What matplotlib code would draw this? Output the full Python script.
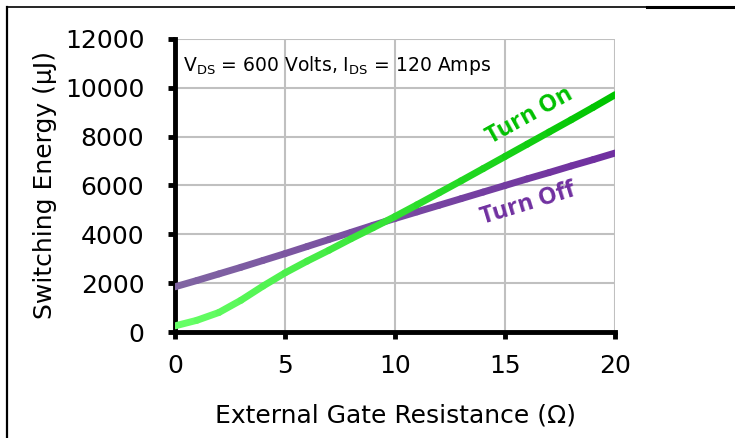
import numpy as np
import matplotlib
matplotlib.use("Agg")
import matplotlib.pyplot as plt
from matplotlib.collections import LineCollection
from matplotlib.colors import LinearSegmentedColormap
from matplotlib.lines import Line2D

# gate resistance (ohm) and switching energy (uJ)
r_gate = [0, 1, 2, 3, 4, 5, 6, 7, 8, 9, 10, 11, 12, 13, 14, 15, 16, 17, 18, 19, 20]
e_on = [250, 480, 800, 1300, 1880, 2420, 2900, 3350, 3820, 4270, 4730,
        5210, 5700, 6190, 6690, 7190, 7690, 8190, 8690, 9200, 9720]
e_off = [1850, 2110, 2380, 2650, 2930, 3210, 3500, 3790, 4080, 4370, 4650,
         4920, 5190, 5460, 5730, 6000, 6270, 6530, 6800, 7060, 7330]

x_ticks = [0, 5, 10, 15, 20]
y_ticks = [0, 2000, 4000, 6000, 8000, 10000, 12000]

plt.rcParams["font.family"] = ["DejaVu Sans"]

fig = plt.figure(figsize=(7.35, 4.38), dpi=100)
ax = fig.add_axes([0.238, 0.242, 0.599, 0.669])


def gradient_line(ax, x, y, c0, c1, lw=5):
    # one colour per segment; round caps close the joints, the axes clip trims the ends
    pts = np.column_stack([x, y]).reshape(-1, 1, 2)
    segs = np.concatenate([pts[:-1], pts[1:]], axis=1)
    cmap = LinearSegmentedColormap.from_list("g", [c0, c1])
    lc = LineCollection(segs, colors=cmap(np.linspace(0, 1, len(segs))),
                        linewidths=lw, capstyle="round", joinstyle="round", zorder=3)
    ax.add_collection(lc)


gradient_line(ax, r_gate, e_off, "#8064A2", "#7030A0")
gradient_line(ax, r_gate, e_on, "#66FF66", "#00C400")

ax.set_xlim(0, 20)
ax.set_ylim(0, 12000)
ax.set_xticks(x_ticks)
ax.set_yticks(y_ticks)
ax.grid(True, color="#C0C0C0", linewidth=1.5, zorder=0)
ax.set_axisbelow(True)
for s in ("top", "right"):
    ax.spines[s].set_visible(False)
for s in ("left", "bottom"):
    ax.spines[s].set_linewidth(3.5)
ax.tick_params(axis="both", length=5, width=3.5, labelsize=18, direction="out")
ax.tick_params(axis="y", pad=17)
ax.tick_params(axis="x", pad=11)

ax.set_xlabel("External Gate Resistance (\u03a9)", fontsize=18, labelpad=18)
ax.set_ylabel("Switching Energy (\u03bcJ)", fontsize=18, labelpad=6)

ax.text(0.35, 10900, r"V$_{\mathregular{DS}}$ = 600 Volts, I$_{\mathregular{DS}}$ = 120 Amps",
        fontsize=13.5, va="center", ha="left")
ax.text(16.1, 8850, "Turn On", color="#00C000", fontsize=17, fontweight="bold",
        family="Open Sans", rotation=29, rotation_mode="anchor", ha="center", va="center")
ax.text(16.05, 5250, "Turn Off", color="#7030A0", fontsize=17, fontweight="bold",
        family="Open Sans", rotation=17, rotation_mode="anchor", ha="center", va="center")

# outer frame pieces (top and left edges only)
H = 438.0
W = 735.0
fig.add_artist(Line2D([7 / W, 647 / W], [1 - 7 / H, 1 - 7 / H], color="black", linewidth=1.2))
fig.add_artist(Line2D([647 / W, 1.0], [1 - 7 / H, 1 - 7 / H], color="black", linewidth=2.2))
fig.add_artist(Line2D([7 / W, 7 / W], [0, 1 - 7 / H], color="black", linewidth=1.6))

fig.savefig("out.png", dpi=100)
